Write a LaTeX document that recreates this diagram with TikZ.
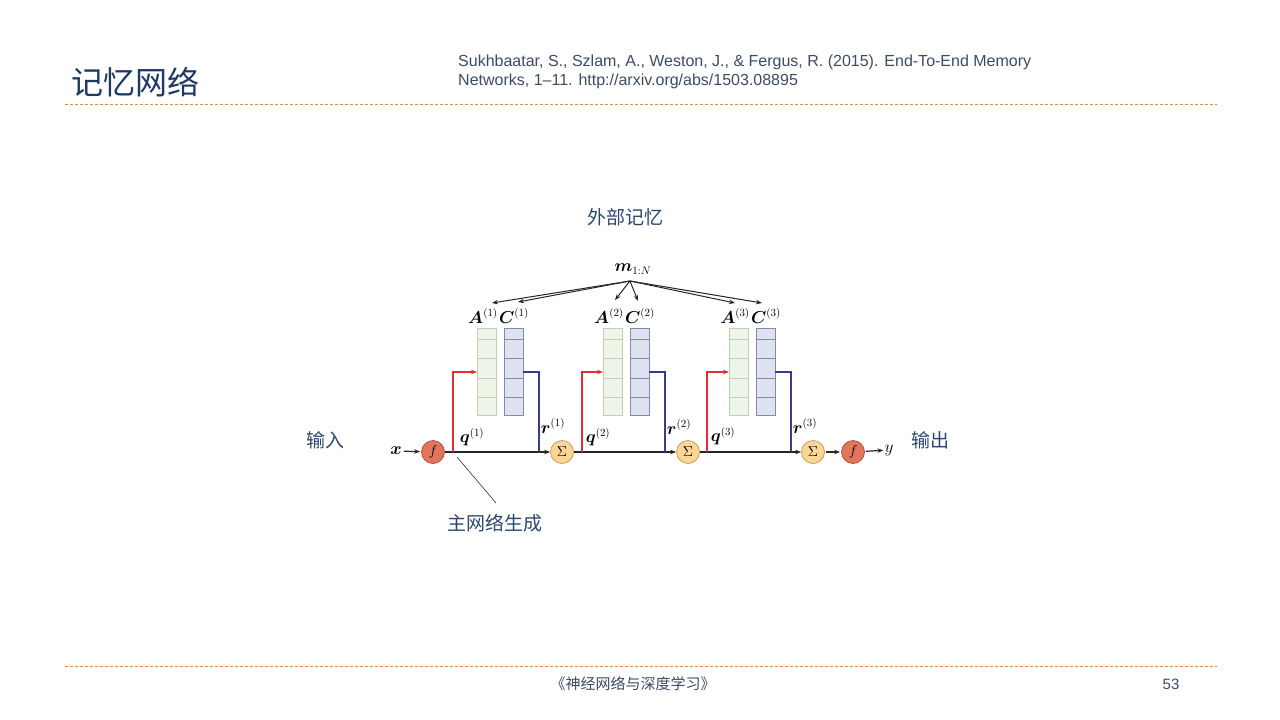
\documentclass[tikz,border=0pt]{standalone}
\usepackage{amsmath,bm}
\usepackage{fontspec}
\setmainfont{Liberation Sans}
\newfontfamily\cjk{Noto Sans CJK SC}
\usetikzlibrary{arrows.meta}
\definecolor{titleblue}{RGB}{32,56,100}
\definecolor{refgray}{RGB}{60,75,100}
\definecolor{labelblue}{RGB}{45,70,110}
\definecolor{dashorange}{RGB}{228,140,70}
\definecolor{fred}{RGB}{226,118,92}
\definecolor{fredd}{RGB}{170,75,55}
\definecolor{sigy}{RGB}{249,214,150}
\definecolor{sigyd}{RGB}{200,150,75}
\definecolor{agreen}{RGB}{238,245,232}
\definecolor{agreend}{RGB}{190,210,178}
\definecolor{cblue}{RGB}{222,226,240}
\definecolor{cblued}{RGB}{130,138,175}
\definecolor{qred}{RGB}{230,45,55}
\definecolor{rblue}{RGB}{55,60,140}
\tikzset{
  tip/.style={-{Stealth[length=6pt,width=4.5pt]}},
  fnode/.style={circle,draw=fredd,fill=fred,line width=0.7pt,minimum size=23pt,inner sep=0pt,font=\fontsize{14}{14}\selectfont},
  snode/.style={circle,draw=sigyd,fill=sigy,line width=0.7pt,minimum size=23pt,inner sep=0pt,font=\fontsize{14}{14}\selectfont},
  mlab/.style={inner sep=0pt,font=\fontsize{16}{16}\selectfont},
  cnlab/.style={inner sep=0pt,text=labelblue,font=\cjk\fontsize{19}{19}\selectfont},
  dashline/.style={draw=dashorange,line width=1pt,dash pattern=on 3pt off 2pt},
  redline/.style={draw=qred,line width=1.3pt},
  blueline/.style={draw=rblue,line width=1.3pt},
  mainline/.style={draw=black!85,line width=1.2pt},
}
\begin{document}
\begin{tikzpicture}[x=1pt,y=-1pt]
\useasboundingbox (0,0) rectangle (1280,720);
% header
\node[anchor=west,inner sep=0pt,text=titleblue,font=\cjk\fontsize{32}{32}\selectfont] (title) at (71,82) {记忆网络};
\node[anchor=north west,inner sep=0pt,text=refgray,align=left,font=\fontsize{16}{19}\selectfont] (ref) at (458,55)
  {Sukhbaatar, S., Szlam, A., Weston, J., \& Fergus, R. (2015). End-To-End Memory\\
   Networks, 1--11. http://arxiv.org/abs/1503.08895};
\coordinate (d1a) at (65,104); \coordinate (d1b) at (1217,104);
\draw[dashline] (d1a) -- (d1b);
\coordinate (d2a) at (65,666.5); \coordinate (d2b) at (1217,666.5);
\draw[dashline] (d2a) -- (d2b);
\node[inner sep=0pt,text=refgray,font=\cjk\fontsize{15}{15}\selectfont] (foot) at (633,684) {《神经网络与深度学习》};
\node[inner sep=0pt,text=refgray,font=\fontsize{15}{15}\selectfont] (page) at (1171,684) {53};

% Chinese labels
\node[cnlab] (ext) at (625,217) {外部记忆};
\node[cnlab] (inp) at (325,440) {输入};
\node[cnlab] (outp) at (930,440) {输出};
\node[cnlab] (gen) at (495,523) {主网络生成};

% memory label
\node[mlab] (m) at (633,269) {$\bm{m}_{1:N}$};
\coordinate (mo) at (630,281);

% memory columns
\foreach \i/\ax/\cx in {1/477/504, 2/603/630, 3/729/756}{
  \foreach \ya/\yb in {328/339,339/358,358/378,378/397,397/415}{
    \draw[draw=agreend,fill=agreen,line width=0.6pt] (\ax,\ya) rectangle (\ax+19,\yb);
    \draw[draw=cblued,fill=cblue,line width=0.6pt] (\cx,\ya) rectangle (\cx+19,\yb);
  }
  \node[mlab] (A\i) at (\ax+6,316) {$\bm{A}^{(\i)}$};
  \node[mlab] (C\i) at (\cx+10,316) {$\bm{C}^{(\i)}$};
  \coordinate (Ain\i) at (\ax,372);
  \coordinate (Cout\i) at (\cx+19,372);
}
\coordinate (ta1) at (492,303); \coordinate (tc1) at (518,302);
\coordinate (ta2) at (615,300); \coordinate (tc2) at (638,301);
\coordinate (ta3) at (735,303); \coordinate (tc3) at (762,303);
\foreach \t in {ta1,tc1,ta2,tc2,ta3,tc3}{
  \draw[tip,draw=black!85,line width=1pt] (mo) -- (\t);
}

% main chain
\node[mlab] (x) at (396,451) {$\bm{x}$};
\node[fnode] (f1) at (433,452) {$f$};
\node[snode] (s1) at (562,452) {$\Sigma$};
\node[snode] (s2) at (688,452) {$\Sigma$};
\node[snode] (s3) at (813,452) {$\Sigma$};
\node[fnode] (f2) at (853,452) {$f$};
\node[mlab] (y) at (889,450) {$y$};

\draw[mainline,tip,shorten <=2pt,shorten >=1pt] (x) -- (f1);
\draw[mainline,tip] (f1) -- (s1);
\draw[mainline,tip] (s1) -- (s2);
\draw[mainline,tip] (s2) -- (s3);
\draw[mainline,tip,shorten <=1pt,shorten >=1pt] (s3) -- (f2);
\draw[mainline,tip,shorten <=1pt,shorten >=1pt] (f2) -- (y);

% q branches (red) and r branches (blue)
\coordinate (qb1) at (453,452); \coordinate (qb2) at (582,452); \coordinate (qb3) at (707,452);
\coordinate (rb1) at (539,452); \coordinate (rb2) at (665,452); \coordinate (rb3) at (791,452);
\foreach \i in {1,2,3}{
  \draw[redline,tip] (qb\i) |- (Ain\i);
  \draw[blueline] (Cout\i) -| (rb\i);
}
\node[mlab] (q1) at (472,437) {$\bm{q}^{(1)}$};
\node[mlab] (q2) at (598,437) {$\bm{q}^{(2)}$};
\node[mlab] (q3) at (723,436) {$\bm{q}^{(3)}$};
\node[mlab] (r1) at (553,426) {$\bm{r}^{(1)}$};
\node[mlab] (r2) at (679,427) {$\bm{r}^{(2)}$};
\node[mlab] (r3) at (805,426) {$\bm{r}^{(3)}$};

% pointer to 主网络生成
\coordinate (pa) at (457,457); \coordinate (pb) at (496,503);
\draw[draw=black!80,line width=0.6pt] (pa) -- (pb);
\end{tikzpicture}
\end{document}
